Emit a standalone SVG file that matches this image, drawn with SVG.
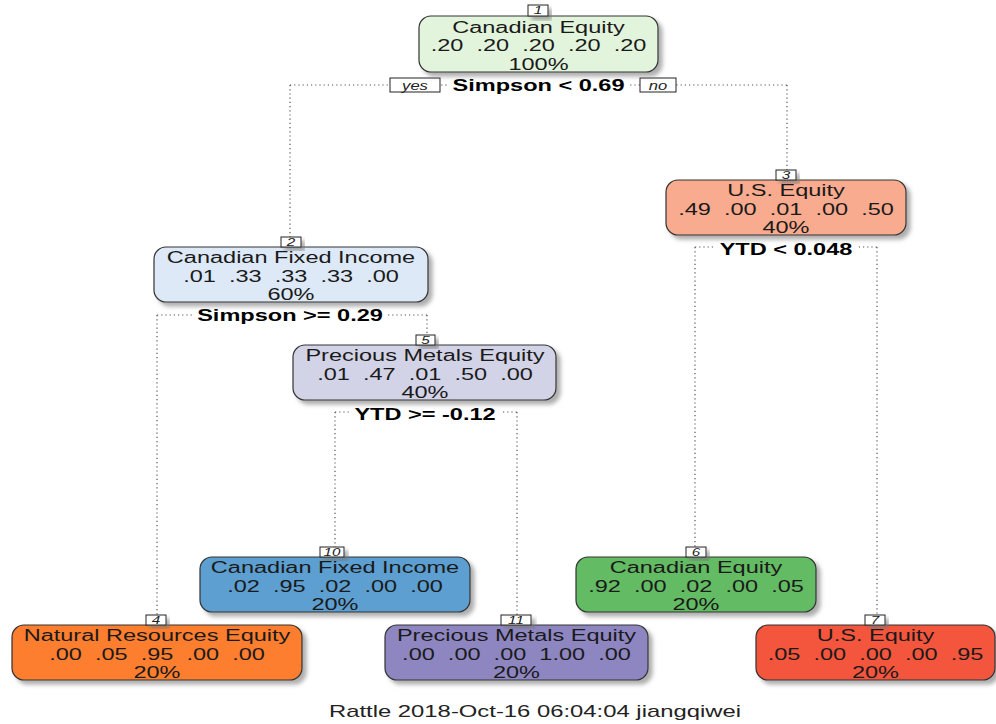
<svg xmlns="http://www.w3.org/2000/svg" width="996" height="724" viewBox="0 0 996 724">
<defs>
<filter id="sh" x="-10%" y="-20%" width="130%" height="160%">
<feDropShadow dx="4" dy="4" stdDeviation="2" flood-color="#777" flood-opacity="0.6"/>
</filter>
<style>
.box{stroke:#333;stroke-width:1.2;filter:url(#sh)}
.t{font-family:"Liberation Sans",Arial,sans-serif;font-size:16px;fill:#1a1a1a;text-anchor:middle;white-space:pre}
.s{font-family:"Liberation Sans",Arial,sans-serif;font-size:17px;font-weight:bold;fill:#000;text-anchor:middle}
.n{font-family:"Liberation Sans",Arial,sans-serif;font-size:11px;font-style:italic;fill:#222;text-anchor:middle}
.nb{fill:#fff;stroke:#222;stroke-width:1;filter:url(#sh)}
.yn{font-family:"Liberation Sans",Arial,sans-serif;font-size:12px;font-style:italic;fill:#222;text-anchor:middle}
.ynb{fill:#fff;stroke:#222;stroke-width:1}
.c{fill:none;stroke:#555;stroke-width:1.2;stroke-dasharray:1.2 3}
.lb{fill:#fff}
.f{font-family:"Liberation Sans",Arial,sans-serif;font-size:16px;fill:#222;text-anchor:middle}
</style>
</defs>
<rect width="996" height="724" fill="#fff"/>

<g id="connectors">
<path class="c" d="M290 85H787M290 85V237M787 85V170"/>
<path class="c" d="M157 315H427M157 315V615M427 315V334"/>
<path class="c" d="M335 412H517M335 412V547M517 412V615"/>
<path class="c" d="M695 247H877M695 247V547M877 247V615"/>
</g>

<g id="splits">
<rect class="lb" x="449" y="76" width="180" height="18"/>
<text class="s" transform="translate(538.5 91) scale(1.385 1)">Simpson &lt; 0.69</text>
<rect class="ynb" x="390" y="78" width="50" height="14"/>
<text class="yn" transform="translate(415 90) scale(1.385 1)">yes</text>
<rect class="ynb" x="640" y="78" width="36" height="14"/>
<text class="yn" transform="translate(658 90) scale(1.385 1)">no</text>

<rect class="lb" x="194" y="305" width="192" height="19"/>
<text class="s" transform="translate(290 321) scale(1.385 1)">Simpson &gt;= 0.29</text>

<rect class="lb" x="350" y="403" width="150" height="20"/>
<text class="s" transform="translate(425 420) scale(1.385 1)">YTD &gt;= -0.12</text>

<rect class="lb" x="714" y="238" width="142" height="20"/>
<text class="s" transform="translate(786 255) scale(1.385 1)">YTD &lt; 0.048</text>
</g>

<g id="node1">
<rect class="box" x="419" y="16" width="239" height="56" rx="12" fill="#e3f4dd"/>
<rect class="nb" x="528" y="5" width="20" height="11"/>
<text class="n" transform="translate(538 14) scale(1.385 1)">1</text>
<text class="t" transform="translate(538.5 32.5) scale(1.47 1)">Canadian Equity</text>
<text class="t" transform="translate(538.5 51) scale(1.47 1)">.20  .20  .20  .20  .20</text>
<text class="t" transform="translate(538.5 69.5) scale(1.47 1)">100%</text>
</g>

<g id="node2">
<rect class="box" x="154" y="247" width="274" height="55" rx="12" fill="#dde9f6"/>
<rect class="nb" x="281" y="237" width="20" height="10"/>
<text class="n" transform="translate(291 246) scale(1.385 1)">2</text>
<text class="t" transform="translate(291 263) scale(1.47 1)">Canadian Fixed Income</text>
<text class="t" transform="translate(291 281.5) scale(1.47 1)">.01  .33  .33  .33  .00</text>
<text class="t" transform="translate(291 300) scale(1.47 1)">60%</text>
</g>

<g id="node3">
<rect class="box" x="666" y="180" width="240" height="55" rx="12" fill="#f9ab8f"/>
<rect class="nb" x="776" y="170" width="20" height="10"/>
<text class="n" transform="translate(786 179) scale(1.385 1)">3</text>
<text class="t" transform="translate(786 196) scale(1.47 1)">U.S. Equity</text>
<text class="t" transform="translate(786 214.5) scale(1.47 1)">.49  .00  .01  .00  .50</text>
<text class="t" transform="translate(786 233) scale(1.47 1)">40%</text>
</g>

<g id="node5">
<rect class="box" x="293" y="345" width="263" height="55" rx="12" fill="#d3d3e7"/>
<rect class="nb" x="416" y="335" width="19" height="10"/>
<text class="n" transform="translate(425.5 344) scale(1.385 1)">5</text>
<text class="t" transform="translate(425 361) scale(1.47 1)">Precious Metals Equity</text>
<text class="t" transform="translate(425 379.5) scale(1.47 1)">.01  .47  .01  .50  .00</text>
<text class="t" transform="translate(425 398) scale(1.47 1)">40%</text>
</g>

<g id="node10">
<rect class="box" x="200" y="557" width="270" height="55" rx="12" fill="#5b9fd0"/>
<rect class="nb" x="320" y="547" width="24" height="10"/>
<text class="n" transform="translate(332 556) scale(1.385 1)">10</text>
<text class="t" transform="translate(335 573) scale(1.47 1)">Canadian Fixed Income</text>
<text class="t" transform="translate(335 591.5) scale(1.47 1)">.02  .95  .02  .00  .00</text>
<text class="t" transform="translate(335 610) scale(1.47 1)">20%</text>
</g>

<g id="node6">
<rect class="box" x="576" y="557" width="240" height="55" rx="12" fill="#64bb63"/>
<rect class="nb" x="686" y="547" width="20" height="10"/>
<text class="n" transform="translate(696 556) scale(1.385 1)">6</text>
<text class="t" transform="translate(696 573) scale(1.47 1)">Canadian Equity</text>
<text class="t" transform="translate(696 591.5) scale(1.47 1)">.92  .00  .02  .00  .05</text>
<text class="t" transform="translate(696 610) scale(1.47 1)">20%</text>
</g>

<g id="node4">
<rect class="box" x="12" y="625" width="290" height="55" rx="12" fill="#fd7e2d"/>
<rect class="nb" x="146" y="615" width="20" height="10"/>
<text class="n" transform="translate(156 624) scale(1.385 1)">4</text>
<text class="t" transform="translate(157 641) scale(1.47 1)">Natural Resources Equity</text>
<text class="t" transform="translate(157 659.5) scale(1.47 1)">.00  .05  .95  .00  .00</text>
<text class="t" transform="translate(157 678) scale(1.47 1)">20%</text>
</g>

<g id="node11">
<rect class="box" x="385" y="625" width="263" height="55" rx="12" fill="#8e86c1"/>
<rect class="nb" x="501" y="615" width="30" height="10"/>
<text class="n" transform="translate(516 624) scale(1.385 1)">11</text>
<text class="t" transform="translate(516.5 641) scale(1.47 1)">Precious Metals Equity</text>
<text class="t" transform="translate(516.5 659.5) scale(1.47 1)">.00  .00  .00  1.00  .00</text>
<text class="t" transform="translate(516.5 678) scale(1.47 1)">20%</text>
</g>

<g id="node7">
<rect class="box" x="756" y="625" width="239" height="55" rx="12" fill="#f4553c"/>
<rect class="nb" x="865" y="615" width="20" height="10"/>
<text class="n" transform="translate(875 624) scale(1.385 1)">7</text>
<text class="t" transform="translate(875.5 641) scale(1.47 1)">U.S. Equity</text>
<text class="t" transform="translate(875.5 659.5) scale(1.47 1)">.05  .00  .00  .00  .95</text>
<text class="t" transform="translate(875.5 678) scale(1.47 1)">20%</text>
</g>

<text class="f" transform="translate(535 717) scale(1.49 1)">Rattle 2018-Oct-16 06:04:04 jiangqiwei</text>
</svg>
